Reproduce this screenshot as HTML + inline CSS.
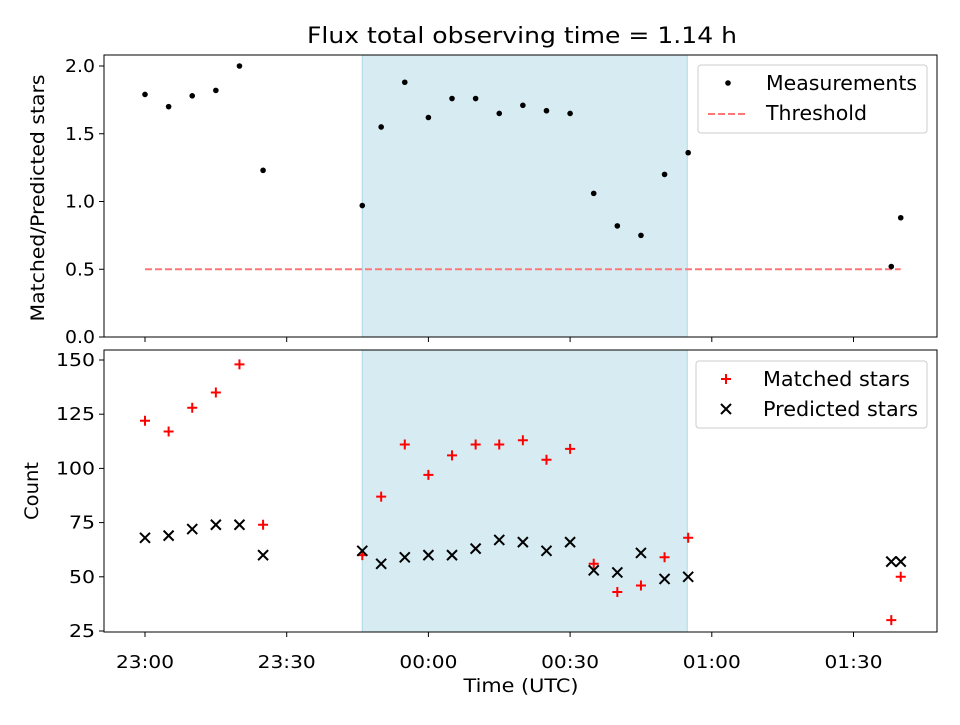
<!DOCTYPE html>
<html><head><meta charset="utf-8"><style>
body{margin:0;background:#fff}
svg text{font-family:"DejaVu Sans","Liberation Sans",sans-serif;fill:#000}
</style></head><body>
<svg id="c" width="960" height="720" xmlns="http://www.w3.org/2000/svg">
<text x="522" y="43" font-size="22" text-anchor="middle" textLength="430" lengthAdjust="spacingAndGlyphs">Flux total observing time = 1.14 h</text>
<g id="g"></g>
</svg>
<script>
const minutes=[0,5,10,15,20,25,46,50,55,60,65,70,75,80,85,90,95,100,105,110,115,158,160];
const ratio=[1.79,1.70,1.78,1.82,2.00,1.23,0.97,1.55,1.88,1.62,1.76,1.76,1.65,1.71,1.67,1.65,1.06,0.82,0.75,1.20,1.36,0.52,0.88];
const matched=[122,117,128,135,148,74,60,87,111,97,106,111,111,113,104,109,56,43,46,59,68,30,50];
const predicted=[68,69,72,74,74,60,62,56,59,60,60,63,67,66,62,66,53,52,61,49,50,57,57];
const threshold=0.5;
const spanStart=46,spanEnd=114.8;
const xTickMin=[0,30,60,90,120,150];
const xTickLabels=["23:00","23:30","00:00","00:30","01:00","01:30"];
const topTicks=[0,0.5,1.0,1.5,2.0];
const botTicks=[25,50,75,100,125,150];

const NS="http://www.w3.org/2000/svg";
const g=document.getElementById('g');
const L=104,R=937;
const X=m=>145+m*(141.7/30);
const Yt=v=>337-v*135.5;
const Yb=v=>631-(v-25)*(271/125);
function el(t,a,n,p){const e=document.createElementNS(NS,t);for(const k in a)e.setAttribute(k,a[k]);


(p||g).appendChild(e);return e;}
function txt(x,y,s,n,anchor,extra,size){const e=el('text',Object.assign({x:x,y:y,'font-size':size||18,'text-anchor':anchor||'middle'},extra||{}),n);e.textContent=s;return e;}

const panels=[{t:55,b:337,n:'top'},{t:350,b:632,n:'bottom'}];
panels.forEach(p=>{
 el('rect',{x:X(spanStart),y:p.t,width:X(spanEnd)-X(spanStart),height:p.b-p.t,fill:'#add8e6','fill-opacity':0.5,stroke:'#add8e6'},p.n+'-observing-span');
});
el('line',{x1:X(minutes[0]),x2:X(minutes[minutes.length-1]),y1:Yt(threshold),y2:Yt(threshold),stroke:'#ff7777','stroke-width':2,'stroke-dasharray':'7,3'},'threshold-line');
minutes.forEach((m,i)=>{el('circle',{cx:X(m),cy:Yt(ratio[i]),r:2.8,fill:'#000'},'measurement-point');});
minutes.forEach((m,i)=>{
 const x=X(m),y=Yb(matched[i]);
 el('path',{d:`M${x-5},${y}H${x+5}M${x},${y-5}V${y+5}`,stroke:'#f00','stroke-width':2},'matched-marker');
 const y2=Yb(predicted[i]);
 el('path',{d:`M${x-5},${y2-5}L${x+5},${y2+5}M${x-5},${y2+5}L${x+5},${y2-5}`,stroke:'#000','stroke-width':2},'predicted-marker');
});
panels.forEach(p=>{
 el('rect',{x:L,y:p.t,width:R-L,height:p.b-p.t,fill:'none',stroke:'#000','stroke-width':1},p.n+'-axes-frame');
 xTickMin.forEach(m=>{el('line',{x1:X(m),x2:X(m),y1:p.b,y2:p.b+5,stroke:'#000'},'x-tick');});
});
xTickMin.forEach((m,i)=>txt(X(m),668,xTickLabels[i],'x-tick-label','middle',{textLength:58,lengthAdjust:'spacingAndGlyphs'}));
topTicks.forEach(v=>{el('line',{x1:L-5,x2:L,y1:Yt(v),y2:Yt(v),stroke:'#000'},'y-tick');txt(L-9,Yt(v)+6,v.toFixed(1),'top-y-tick-label','end',{textLength:30,lengthAdjust:'spacingAndGlyphs'});});
botTicks.forEach(v=>{el('line',{x1:L-5,x2:L,y1:Yb(v),y2:Yb(v),stroke:'#000'},'y-tick');txt(L-9,Yb(v)+6,String(v),'bottom-y-tick-label','end',{textLength:String(v).length*13,lengthAdjust:'spacingAndGlyphs'});});
txt(521,692,'Time (UTC)','x-axis-title','middle',{textLength:115,lengthAdjust:'spacingAndGlyphs'},19);
txt(44,198,'Matched/Predicted stars','top-y-axis-title','middle',{transform:'rotate(-90 44 198)',textLength:247,lengthAdjust:'spacingAndGlyphs'},19);
txt(38,491,'Count','bottom-y-axis-title','middle',{transform:'rotate(-90 38 491)',textLength:58,lengthAdjust:'spacingAndGlyphs'},19);
el('rect',{x:698,y:65,width:229,height:68,rx:3,fill:'#fff','fill-opacity':0.8,stroke:'#ccc'},'top-legend');
el('circle',{cx:728,cy:83,r:2.8,fill:'#000'},'legend-measurements-marker');
txt(766,90,'Measurements','legend-measurements','start',{textLength:151,lengthAdjust:'spacingAndGlyphs'},20);
el('line',{x1:708,x2:748,y1:114,y2:114,stroke:'#ff7777','stroke-width':2,'stroke-dasharray':'7,3'},'legend-threshold-line');
txt(766,120,'Threshold','legend-threshold','start',{textLength:101,lengthAdjust:'spacingAndGlyphs'},20);
el('rect',{x:696,y:361,width:231,height:67,rx:3,fill:'#fff','fill-opacity':0.8,stroke:'#ccc'},'bottom-legend');
el('path',{d:'M721,379H731M726,374V384',stroke:'#f00','stroke-width':2},'legend-matched-marker');
txt(763,386,'Matched stars','legend-matched','start',{textLength:147,lengthAdjust:'spacingAndGlyphs'},20);
el('path',{d:'M721,404L731,414M721,414L731,404',stroke:'#000','stroke-width':2},'legend-predicted-marker');
txt(763,416,'Predicted stars','legend-predicted','start',{textLength:155,lengthAdjust:'spacingAndGlyphs'},20);
</script>
</body></html>
